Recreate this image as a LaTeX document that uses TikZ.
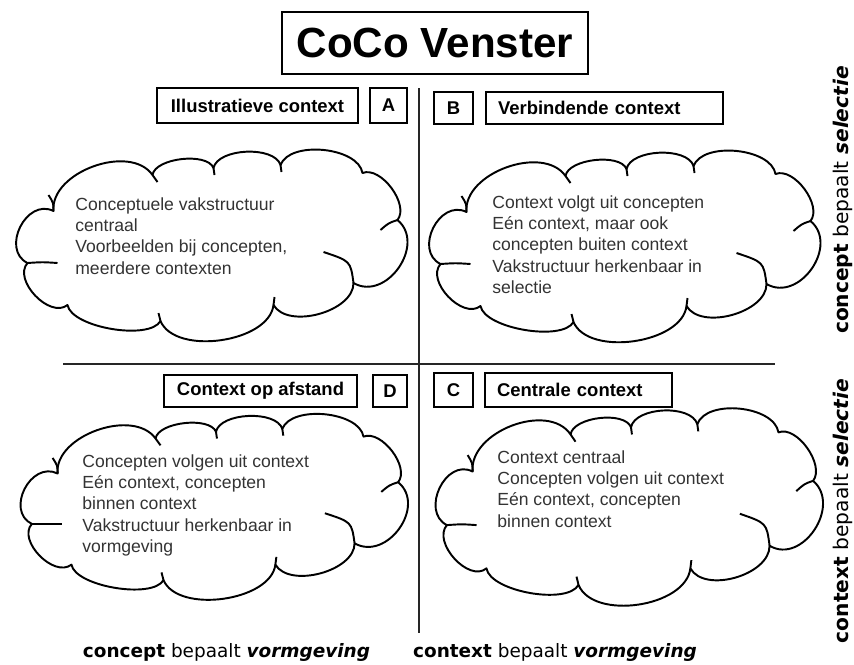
\documentclass[tikz,border=0pt]{standalone}
\usepackage{fontspec}
\setmainfont{Liberation Sans}
\newfontfamily\verdana{DejaVu Sans}
\usetikzlibrary{positioning}

\begin{document}
\begin{tikzpicture}[
    x=0.02cm, y=-0.02cm,
    kop/.style={draw, line width=1pt, font=\bfseries\fontsize{10.5}{12}\selectfont, inner sep=0pt},
    wolklijn/.style={line width=1.1pt, line join=round},
    wolktekst/.style={anchor=north west, align=left, inner sep=0pt,
                      font=\fontsize{10}{12.2}\selectfont, text=black!80},
    as/.style={line width=1.5pt, black!85},
    onderschrift/.style={font=\verdana\fontsize{10.5}{12}\selectfont, inner sep=0pt},
    zijschrift/.style={onderschrift, font=\verdana\fontsize{11.5}{13}\selectfont, rotate=90},
    % wolk in de vorm van het Office-wolkje, middelpunt in de oorsprong
    wolk/.pic={
        \draw[wolklijn] (-50,78) to[bend left=70, looseness=0.62] (-143,62)
            to[bend left=85, looseness=1.0] (-183,20)
            to[bend left=90, looseness=1.33] (-157,-32)
            to[bend left=75, looseness=0.95] (-58,-68)
            to[bend left=75, looseness=0.72] (3,-75)
            to[bend left=75, looseness=0.78] (70,-78)
            to[bend left=75, looseness=0.82] (152,-70)
            to[bend left=75, looseness=0.86] (187,-23)
            to[bend left=85, looseness=1.26] (143,40)
            to[bend left=75, looseness=0.88] (63,62)
            to[bend left=75, looseness=0.85] (-50,78);
        % binnenboogjes
        \draw[wolklijn] (-157,-32) .. controls (-157,-40) .. (-162,-48);
        \draw[wolklijn] (-58,-68) .. controls (-55,-65) .. (-53,-61);
        \draw[wolklijn] (3,-75) .. controls (4,-72) .. (4,-68);
        \draw[wolklijn] (70,-78) .. controls (71,-75) .. (71,-71);
        \draw[wolklijn] (187,-23) .. controls (178,-20) .. (170,-13);
        \draw[wolklijn] (143,40) .. controls (140,18) .. (113,9);
        \draw[wolklijn] (63,62) .. controls (64,58) .. (64,54);
        \draw[wolklijn] (-50,78) .. controls (-51,74) .. (-52,70);
        \draw[wolklijn] (-183,20) .. controls (-168,19) .. (-153,20);
    }
]
    \useasboundingbox (0,0) rectangle (854,664);

    % titel
    \node[draw, line width=1pt, minimum width=6.12cm, minimum height=1.24cm,
          font=\bfseries\fontsize{24}{28}\selectfont] (titel) at (435,43) {CoCo Venster};

    % assen
    \coordinate (boven) at (419,88);
    \coordinate (onder) at (419,633);
    \coordinate (links) at (63,364);
    \coordinate (rechts) at (775,364);
    \draw[as] (boven) -- (onder);
    \draw[as] (links) -- (rechts);

    % kwadrant A
    \node[kop, minimum width=4.02cm, minimum height=0.70cm] (kopA) at (257.5,105.5) {Illustratieve context};
    \node[kop, minimum width=0.74cm, minimum height=0.70cm] (letA) at (388.5,105.5) {A};
    \pic (wolkA) at (210.5,243) {wolk};
    \node[wolktekst] (tekstA) at (75,197) {Conceptuele vakstructuur\\centraal\\Voorbeelden bij concepten,\\meerdere contexten};

    % kwadrant B
    \node[kop, minimum width=0.78cm, minimum height=0.64cm] (letB) at (453.5,108) {B};
    \node[kop, text width=4.26cm, inner xsep=0.24cm, align=left, minimum height=0.64cm] (kopB) at (604.5,108) {Verbindende context};
    \pic (wolkB) at (623.5,244) {wolk};
    \node[wolktekst] (tekstB) at (492,195) {Context volgt uit concepten\\E\'en context, maar ook\\concepten buiten context\\Vakstructuur herkenbaar in\\selectie};

    % kwadrant D
    \node[kop, minimum width=3.86cm, minimum height=0.64cm] (kopD) at (260.5,391) {Context op afstand};
    \node[kop, minimum width=0.68cm, minimum height=0.64cm] (letD) at (390,391) {D};
    \pic[xscale=0.99, yscale=0.97] (wolkD) at (213,504.5) {wolk};
    \node[wolktekst] (tekstD) at (82,454) {Concepten volgen uit context\\E\'en context, concepten\\binnen context\\Vakstructuur herkenbaar in\\vormgeving};

    % kwadrant C
    \node[kop, minimum width=0.78cm, minimum height=0.68cm] (letC) at (453.5,390) {C};
    \node[kop, text width=3.26cm, inner xsep=0.24cm, align=left, minimum height=0.68cm] (kopC) at (578.5,390) {Centrale context};
    \pic[xscale=0.99, yscale=1.03] (wolkC) at (628,504.5) {wolk};
    \node[wolktekst] (tekstC) at (497,450) {Context centraal\\Concepten volgen uit context\\E\'en context, concepten\\binnen context};

    % onderschriften
    \node[onderschrift] (ondL) at (226.5,652) {\textbf{concept} bepaalt \textbf{\itshape vormgeving}};
    \node[onderschrift] (ondR) at (555,652) {\textbf{context} bepaalt \textbf{\itshape vormgeving}};
    \node[zijschrift] (zijB) at (843,200) {\textbf{concept} bepaalt \textbf{\itshape selectie}};
    \node[zijschrift] (zijC) at (843,511) {\textbf{context} bepaalt \textbf{\itshape selectie}};
\end{tikzpicture}
\end{document}
